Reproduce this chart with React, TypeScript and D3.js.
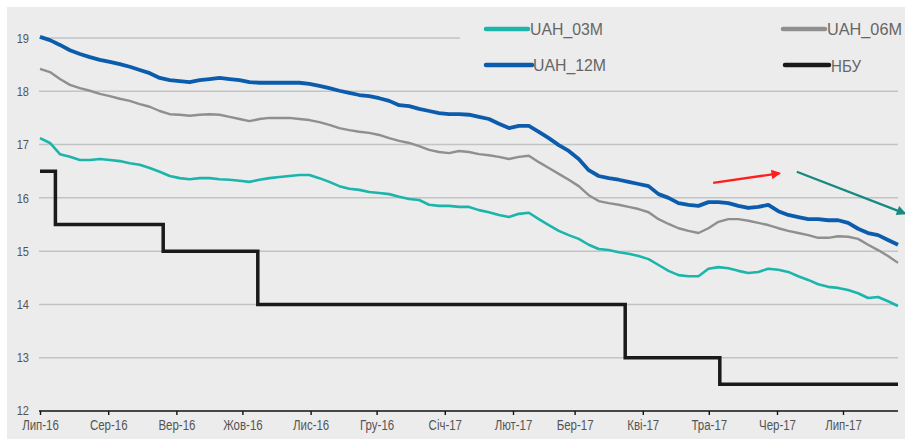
import React, { useEffect, useRef } from 'react';
import * as d3 from 'd3';

const W = 905;
const H = 439;

// month ticks along the bottom
const monthLabels = [
  'Лип-16', 'Сер-16', 'Вер-16', 'Жов-16', 'Лис-16', 'Гру-16', 'Січ-17',
  'Лют-17', 'Бер-17', 'Кві-17', 'Тра-17', 'Чер-17', 'Лип-17',
];
const yTicks = [12, 13, 14, 15, 16, 17, 18, 19];

const firstDay = '2016-07-01';
const lastDay = '2017-07-26';

const rate12m = [
  19.02, 18.96, 18.87, 18.77, 18.7, 18.64, 18.59, 18.55, 18.51, 18.46,
  18.4, 18.34, 18.25, 18.21, 18.19, 18.17, 18.21, 18.23, 18.25, 18.23,
  18.21, 18.17, 18.16, 18.16, 18.16, 18.16, 18.16, 18.14, 18.1, 18.06,
  18.01, 17.97, 17.93, 17.91, 17.87, 17.82, 17.74, 17.72, 17.67, 17.63,
  17.59, 17.57, 17.57, 17.56, 17.52, 17.48, 17.39, 17.31, 17.35, 17.35,
  17.24, 17.12, 16.99, 16.88, 16.73, 16.52, 16.41, 16.37, 16.34, 16.3,
  16.26, 16.22, 16.07, 16.0, 15.9, 15.87, 15.85, 15.92, 15.92, 15.9,
  15.85, 15.81, 15.83, 15.87, 15.75, 15.68, 15.64, 15.6, 15.6, 15.58,
  15.58, 15.53, 15.42, 15.34, 15.3, 15.21, 15.12,
];

const rate06m = [
  18.42, 18.36, 18.23, 18.12, 18.06, 18.01, 17.95, 17.91, 17.86, 17.82,
  17.76, 17.71, 17.63, 17.57, 17.56, 17.54, 17.56, 17.57, 17.56, 17.52,
  17.48, 17.44, 17.48, 17.5, 17.5, 17.5, 17.48, 17.46, 17.42, 17.37,
  17.31, 17.27, 17.24, 17.22, 17.18, 17.12, 17.07, 17.03, 16.97, 16.9,
  16.86, 16.84, 16.88, 16.86, 16.82, 16.8, 16.77, 16.73, 16.77, 16.79,
  16.67, 16.56, 16.45, 16.34, 16.22, 16.05, 15.94, 15.9, 15.87, 15.83,
  15.79, 15.73, 15.6, 15.51, 15.43, 15.38, 15.34, 15.43, 15.55, 15.6,
  15.6, 15.57, 15.53, 15.49, 15.43, 15.38, 15.34, 15.3, 15.25, 15.25,
  15.28, 15.27, 15.23, 15.12, 15.02, 14.91, 14.78,
];

const rate03m = [
  17.12, 17.03, 16.82, 16.77, 16.71, 16.71, 16.73, 16.71, 16.69, 16.65,
  16.62, 16.56, 16.49, 16.41, 16.37, 16.35, 16.37, 16.37, 16.35, 16.34,
  16.32, 16.3, 16.34, 16.37, 16.39, 16.41, 16.43, 16.43, 16.37, 16.3,
  16.22, 16.17, 16.15, 16.11, 16.09, 16.07, 16.02, 15.98, 15.96, 15.87,
  15.85, 15.85, 15.83, 15.83, 15.77, 15.73, 15.68, 15.64, 15.7, 15.72,
  15.6, 15.49, 15.38, 15.3, 15.23, 15.12, 15.04, 15.02, 14.98, 14.95,
  14.91, 14.85, 14.74, 14.63, 14.55, 14.53, 14.53, 14.67, 14.7, 14.68,
  14.63, 14.59, 14.61, 14.67, 14.65, 14.61, 14.53, 14.46, 14.38, 14.33,
  14.31, 14.27, 14.21, 14.12, 14.14, 14.06, 13.97,
];

// NBU key rate, step changes
const nbuDates = ['2016-07-01', '2016-07-08', '2016-08-26', '2016-10-08', '2017-03-24', '2017-05-06', '2017-07-26'];
const nbuRate = [16.5, 15.5, 15.0, 14.0, 13.0, 12.5, 12.5];

// hand-drawn arrows on the chart (date, value)
const arrowRed = [['2017-05-03', 16.28], ['2017-06-02', 16.46]];
const arrowTeal = [['2017-06-10', 16.49], ['2017-07-29', 15.71]];

const parse = d3.timeParse('%Y-%m-%d');

// the original uses a narrow face; squeeze Liberation Sans horizontally
const font = "'Liberation Sans', Arial, sans-serif";
const squeeze = 0.82;

const App = () => {
  const xAxisRef = useRef<SVGGElement>(null);

  const start = parse(firstDay) as Date;
  const end = parse(lastDay) as Date;

  const x = d3.scaleTime().domain([start, end]).range([40, 898]);
  const y = d3.scaleLinear().domain([12, 19]).range([411, 38]);

  const n = rate12m.length;
  const obsDates = d3.range(n).map(
    (i) => new Date(+start + (i / (n - 1)) * (+end - +start))
  );

  const line = d3
    .line<number>()
    .x((d, i) => x(obsDates[i]))
    .y((d) => y(d));

  const nbuLine = d3
    .line<number>()
    .x((d, i) => x(parse(nbuDates[i]) as Date))
    .y((d) => y(d))
    .curve(d3.curveStepAfter);

  const tickDates = monthLabels.map((_, i) => new Date(2016, 6 + i, 1));

  useEffect(() => {
    const g = d3.select(xAxisRef.current);
    g.selectAll('*').remove();
    g.call(
      d3
        .axisBottom(x)
        .tickValues(tickDates)
        .tickSize(4)
        .tickSizeOuter(0)
        .tickFormat((d, i) => monthLabels[i])
    );
    g.select('.domain').attr('stroke', '#111').attr('stroke-width', 1.6).attr('d', 'M39,0H898');
    g.selectAll('.tick line').attr('stroke', '#111').attr('stroke-width', 1.4);
    g.selectAll('.tick text')
      .attr('fill', '#555')
      .attr('font-size', 14)
      .attr('font-family', font)
      .attr('dy', '0.85em')
      .attr('y', 7)
      .attr('transform', `scale(${squeeze},1)`);
  }, []);

  const toPts = (a: any[]) => a.map(([d, v]) => [x(parse(d) as Date), y(v)]);
  const red = toPts(arrowRed);
  const teal = toPts(arrowTeal);

  const legend = [
    { label: 'UAH_03M', color: '#1bb5ab', x1: 486, x2: 528, y: 29, tx: 530, ty: 35, w: 73 },
    { label: 'UAH_06M', color: '#8f8f8f', x1: 783, x2: 825, y: 29, tx: 827, ty: 35, w: 75 },
    { label: 'UAH_12M', color: '#0b5cad', x1: 486, x2: 532, y: 65, tx: 533, ty: 71, w: 73 },
    { label: 'НБУ', color: '#1a1a1a', x1: 785, x2: 829, y: 65, tx: 831, ty: 72, w: 30 },
  ];

  return (
    <div style={{ position: 'absolute', left: 0, top: 0 }}>
      <svg width={W} height={H}>
        <defs>
          <marker id="headRed" viewBox="0 0 10 10" refX="8" refY="5" markerWidth="4.5" markerHeight="4" orient="auto">
            <path d="M0,0L10,5L0,10z" fill="#ff1e1e" />
          </marker>
          <marker id="headTeal" viewBox="0 0 10 10" refX="8" refY="5" markerWidth="4.5" markerHeight="4" orient="auto">
            <path d="M0,0L10,5L0,10z" fill="#168a80" />
          </marker>
        </defs>
        <rect x={0} y={0} width={W} height={H} fill="#fff" />
        <rect x={7} y={7} width={W - 7} height={H - 7} fill="#ececec" />

        {yTicks.map((t) => (
          <g key={t}>
            {t > 12 && (
              <line
                x1={39}
                x2={t === 19 ? 460 : 898}
                y1={y(t)}
                y2={y(t)}
                stroke="#c2c4c4"
                strokeWidth={1.5}
              />
            )}
            <text
              transform={`translate(29,${y(t) - (t === 12 ? 1 : 0)}) scale(${squeeze},1)`}
              dy="0.35em"
              textAnchor="end"
              fontSize={13.5}
              fontFamily={font}
              fill="#555"
            >
              {t}
            </text>
          </g>
        ))}

        <g ref={xAxisRef} transform={`translate(0,${y(12)})`} />

        <path d={nbuLine(nbuRate) || ''} fill="none" stroke="#1a1a1a" strokeWidth={3.5} />
        <path d={line(rate03m) || ''} fill="none" stroke="#1bb5ab" strokeWidth={2.6} strokeLinejoin="round" />
        <path d={line(rate06m) || ''} fill="none" stroke="#8f8f8f" strokeWidth={2.4} strokeLinejoin="round" />
        <path d={line(rate12m) || ''} fill="none" stroke="#0b5cad" strokeWidth={3.8} strokeLinejoin="round" />

        <line x1={red[0][0]} y1={red[0][1]} x2={red[1][0]} y2={red[1][1]} stroke="#ff1e1e" strokeWidth={2.4} markerEnd="url(#headRed)" />
        <line x1={teal[0][0]} y1={teal[0][1]} x2={teal[1][0]} y2={teal[1][1]} stroke="#168a80" strokeWidth={2.4} markerEnd="url(#headTeal)" />

        {legend.map((l) => (
          <g key={l.label}>
            <line x1={l.x1} x2={l.x2} y1={l.y} y2={l.y} stroke={l.color} strokeWidth={4.5} strokeLinecap="round" />
            <text
              x={l.tx}
              y={l.ty}
              fontSize={17}
              fontFamily={font}
              fill="#666"
              textLength={l.w}
              lengthAdjust="spacingAndGlyphs"
            >
              {l.label}
            </text>
          </g>
        ))}
      </svg>
    </div>
  );
};

export default App;
